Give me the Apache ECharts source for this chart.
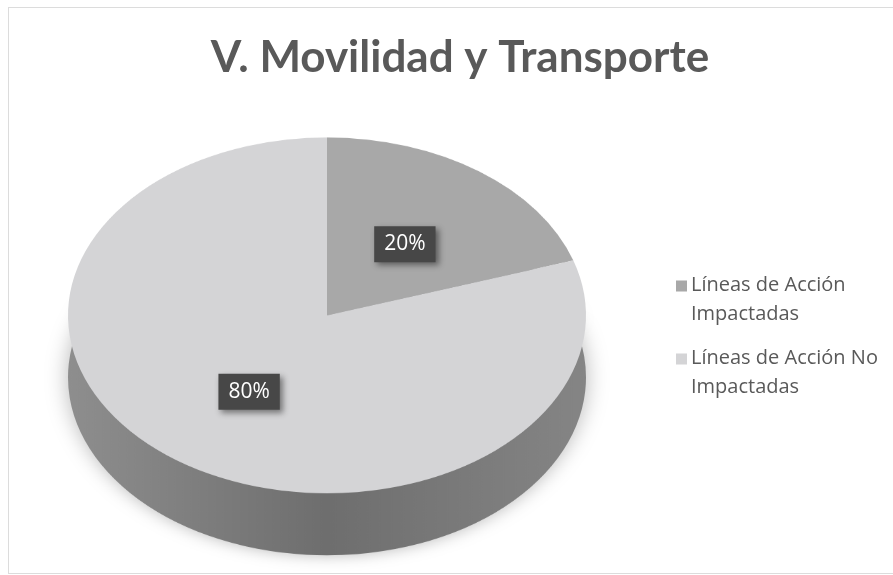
<!DOCTYPE html>
<html>
<head>
<meta charset="utf-8">
<script src="https://cdn.jsdelivr.net/npm/echarts@6/dist/echarts.min.js"></script>
<style>
    html, body { margin: 0; padding: 0; background: #fff; overflow: hidden; }
    #frame { position: absolute; left: 8px; top: 7px; width: 900px; height: 565px; border: 1px solid #dcdcdc; }
    #pie { position: absolute; left: 0; top: 122.6px; width: 893px; height: 660px; transform: scaleY(0.687); transform-origin: 0 0; }
    #overlay { position: absolute; left: 0; top: 0; width: 893px; height: 575px; }
</style>
</head>
<body>
<div id="frame"></div>
<div id="pie"></div>
<div id="overlay"></div>
<script>
// datos
var categorias = ['Líneas de Acción\nImpactadas', 'Líneas de Acción No\nImpactadas'];
var valores = [20, 80];
var titulo = 'V. Movilidad y Transporte';

var coloresCara = ['#a8a8a8', '#d4d4d6'];
var inclinacion = 0.687; // igual que scaleY del div #pie
var centroX = 327, centroY = 315, radio = 259;

function datosPie(colores) {
    var d = [];
    for (var i = 0; i < categorias.length; i++) {
        d.push({value: valores[i], name: categorias[i], itemStyle: {color: colores[i]}});
    }
    return d;
}

var ladoColor = {
    type: 'linear', x: 0, y: 0, x2: 1, y2: 0,
    colorStops: [
        {offset: 0, color: '#8e8e8e'},
        {offset: 0.5, color: '#6e6e6e'},
        {offset: 1, color: '#858585'}
    ]
};

// pie "3D": lado oscuro + cara superior, aplanados con scaleY
var pieChart = echarts.init(document.getElementById('pie'));
var pieOption = {
    animation: false,
    series: [
        {
            name: 'lado',
            type: 'pie',
            center: [centroX, 280 + 62 / inclinacion],
            radius: radio,
            silent: true,
            label: {show: false},
            labelLine: {show: false},
            itemStyle: {shadowBlur: 22, shadowColor: 'rgba(0,0,0,0.28)'},
            data: datosPie([ladoColor, ladoColor])
        },
        {
            name: 'cara',
            type: 'pie',
            center: [centroX, 280],
            radius: radio,
            silent: true,
            label: {show: false},
            labelLine: {show: false},
            data: datosPie(coloresCara)
        }
    ]
};
pieChart.setOption(pieOption);

// titulo, leyenda y etiquetas (sin aplanar)
var overlay = echarts.init(document.getElementById('overlay'));
var legendData = [];
for (var i = 0; i < categorias.length; i++) {
    legendData.push({name: categorias[i], itemStyle: {color: coloresCara[i]}});
}
var overlayOption = {
    animation: false,
    title: {
        text: titulo,
        left: 455,
        top: 31,
        textAlign: 'center',
        textStyle: {
            fontFamily: 'Lato',
            fontWeight: 'bold',
            fontSize: 44,
            color: '#595959'
        }
    },
    legend: {
        orient: 'vertical',
        left: 671,
        top: 266,
        itemWidth: 11,
        itemHeight: 39,
        itemGap: 15,
        icon: 'path://M0,0h11v11h-11z M0,39 L0.01,39',
        textStyle: {
            fontFamily: 'Open Sans',
            fontSize: 20,
            lineHeight: 29,
            color: '#595959',
            padding: [0, 0, 0, -1]
        },
        data: legendData
    },
    series: [
        {
            name: 'etiquetas',
            type: 'pie',
            center: [centroX, centroY + 3],
            radius: radio,
            silent: true,
            percentPrecision: 0,
            itemStyle: {color: 'rgba(0,0,0,0)'},
            label: {
                show: true,
                position: 'inside',
                formatter: '{d}%',
                fontFamily: 'Open Sans',
                fontSize: 21,
                color: '#ffffff',
                backgroundColor: '#474747',
                padding: [8, 10, 7, 10],
                shadowColor: 'rgba(0,0,0,0.45)',
                shadowBlur: 6,
                shadowOffsetX: 3,
                shadowOffsetY: 3
            },
            labelLine: {show: false},
            labelLayout: function (params) {
                var r = params.labelRect;
                var cy = r.y + r.height / 2;
                var c = centroY + 3;
                return {
                    x: r.x + r.width / 2,
                    y: c + (cy - c) * inclinacion,
                    align: 'center',
                    verticalAlign: 'middle'
                };
            },
            data: categorias.map(function (c, i) { return {value: valores[i], name: c}; })
        }
    ]
};
overlay.setOption(overlayOption);
</script>
</body>
</html>
